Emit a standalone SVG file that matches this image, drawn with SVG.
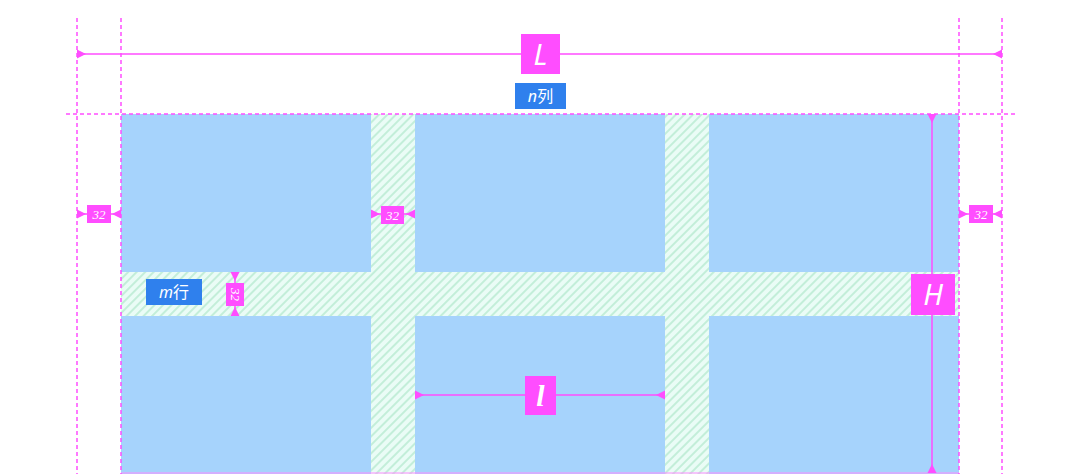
<svg xmlns="http://www.w3.org/2000/svg" width="1080" height="474" viewBox="0 0 1080 474">
<style>
.ext{stroke:#FF4DFF;stroke-width:1.5;stroke-dasharray:4 3;fill:none}
.dim{stroke:#FF4DFF;stroke-width:1.5;fill:none}
.dimbox{fill:#FF4DFF}
.cell{fill:#A6D3FC}
.big{font-family:"Noto Sans","DejaVu Sans",sans-serif;font-style:italic;fill:#fff;text-anchor:middle}
.small{font-family:"Liberation Serif",serif;font-style:italic;font-size:13px;fill:#fff;text-anchor:middle}
.tag{fill:#2F80ED}
.tagt{font-family:"Noto Sans","Noto Sans CJK SC",sans-serif;font-size:16px;fill:#fff;text-anchor:middle}
</style>
<defs>
<pattern id="hatch" width="6" height="6" patternUnits="userSpaceOnUse" patternTransform="rotate(45)">
<rect width="6" height="6" fill="#EAFCF6"/>
<line x1="1" y1="0" x2="1" y2="6" stroke="#BFEDD6" stroke-width="1.8"/>
</pattern>
<marker id="ms" viewBox="-1 -6 12 12" markerWidth="12" markerHeight="12" refX="0" refY="0" orient="auto" markerUnits="userSpaceOnUse">
<path d="M0,-4.5 L9,0 L0,4.5 z" fill="#FF4DFF"/>
</marker>
<marker id="me" viewBox="-11 -6 12 12" markerWidth="12" markerHeight="12" refX="0" refY="0" orient="auto" markerUnits="userSpaceOnUse">
<path d="M0,-4.5 L-9,0 L0,4.5 z" fill="#FF4DFF"/>
</marker>
</defs>

<g id="container">
<rect x="121" y="114" width="838" height="360" fill="url(#hatch)"/>
<rect class="cell" x="121" y="114" width="250" height="158"/>
<rect class="cell" x="415" y="114" width="250" height="158"/>
<rect class="cell" x="709" y="114" width="250" height="158"/>
<rect class="cell" x="121" y="316" width="250" height="158"/>
<rect class="cell" x="415" y="316" width="250" height="158"/>
<rect class="cell" x="709" y="316" width="250" height="158"/>
<line x1="121" y1="473" x2="959" y2="473" stroke="#FF8CFF" stroke-width="1.2"/>
</g>

<g id="guides">
<line class="ext" x1="77" y1="18" x2="77" y2="474"/>
<line class="ext" x1="121" y1="18" x2="121" y2="474"/>
<line class="ext" x1="959" y1="18" x2="959" y2="474"/>
<line class="ext" x1="1002" y1="18" x2="1002" y2="474"/>
<line class="ext" x1="66" y1="114" x2="1016" y2="114"/>
</g>

<g id="connectors">
<line class="dim" x1="77" y1="54" x2="1002" y2="54" marker-start="url(#ms)" marker-end="url(#me)"/>
<line class="dim" x1="77" y1="214" x2="121" y2="214" marker-start="url(#ms)" marker-end="url(#me)"/>
<line class="dim" x1="371" y1="214" x2="415" y2="214" marker-start="url(#ms)" marker-end="url(#me)"/>
<line class="dim" x1="959" y1="214" x2="1002" y2="214" marker-start="url(#ms)" marker-end="url(#me)"/>
<line class="dim" x1="235" y1="272" x2="235" y2="316" marker-start="url(#ms)" marker-end="url(#me)"/>
<line class="dim" x1="932" y1="114" x2="932" y2="473" stroke-width="2.2" marker-start="url(#ms)" marker-end="url(#me)"/>
<line class="dim" x1="415" y1="395" x2="665" y2="395" marker-start="url(#ms)" marker-end="url(#me)"/>
</g>

<g id="label-L">
<rect class="dimbox" x="521" y="34" width="39" height="40"/>
<text class="big" x="540.5" y="65" font-size="29">L</text>
</g>
<g id="label-n">
<rect class="tag" x="515" y="83" width="51" height="26"/>
<text class="tagt" x="540.5" y="101.5"><tspan font-style="italic">n</tspan>列</text>
</g>
<g id="label-32-left">
<rect class="dimbox" x="87" y="205" width="24" height="18"/>
<text class="small" x="99" y="218.5">32</text>
</g>
<g id="label-32-mid">
<rect class="dimbox" x="381" y="206" width="23" height="18"/>
<text class="small" x="392.5" y="219.5">32</text>
</g>
<g id="label-32-right">
<rect class="dimbox" x="969" y="205" width="24" height="18"/>
<text class="small" x="981" y="218.5">32</text>
</g>
<g id="label-m">
<rect class="tag" x="146" y="279" width="56" height="26"/>
<text class="tagt" x="174" y="297.5"><tspan font-style="italic">m</tspan>行</text>
</g>
<g id="label-32-vert">
<rect class="dimbox" x="226" y="283" width="18" height="23"/>
<text class="small" transform="translate(230.5 294.5) rotate(90)">32</text>
</g>
<g id="label-H">
<rect class="dimbox" x="911" y="274" width="44" height="41"/>
<text class="big" x="933" y="305" font-size="29">H</text>
</g>
<g id="label-l">
<rect class="dimbox" x="525" y="376" width="31" height="39"/>
<text x="540.5" y="406" font-size="30" font-family="Liberation Serif, serif" font-style="italic" font-weight="bold" fill="#fff" text-anchor="middle">l</text>
</g>
</svg>
